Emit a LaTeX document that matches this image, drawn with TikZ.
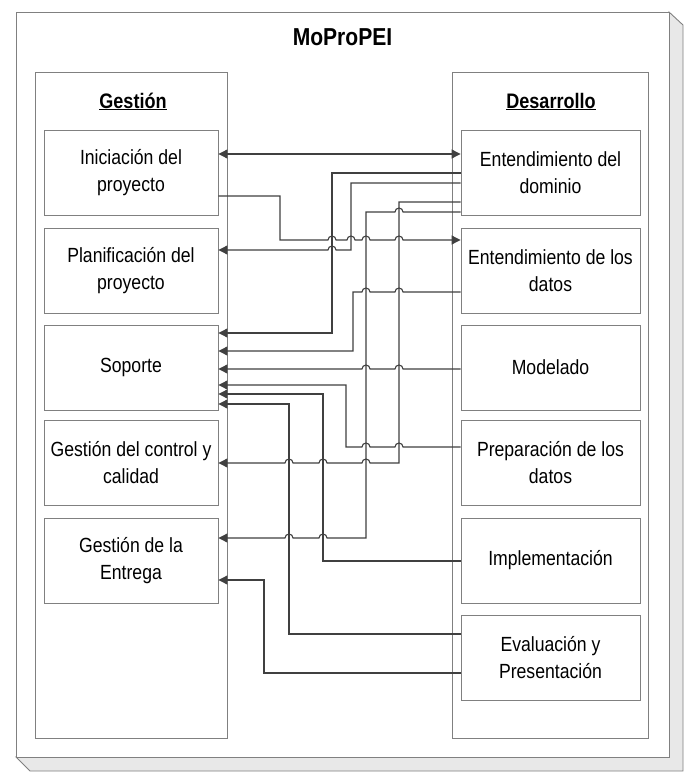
\documentclass[tikz,border=0pt]{standalone}
\usepackage{fontspec}
\setmainfont{Liberation Sans}[FakeStretch=0.86]
\usetikzlibrary{arrows.meta}
\definecolor{ln}{HTML}{404040}
\definecolor{bd}{HTML}{808080}
\definecolor{sh}{HTML}{E8E8E8}
\begin{document}
\begin{tikzpicture}[x=1pt,y=-1pt,
  cont/.style={draw=bd, line width=0.9pt, inner sep=0pt, minimum height=666pt},
  lbox/.style={draw=bd, line width=0.9pt, inner sep=0pt, minimum width=174pt, minimum height=85pt, align=center, font=\fontsize{20.5}{26.5}\selectfont},
  rbox/.style={lbox, minimum width=179pt},
  conn/.style={draw=ln, line width=1.1pt, -{Triangle[length=9pt,width=9pt]}},
  conn2/.style={draw=ln, line width=1.1pt, {Triangle[length=9pt,width=9pt]}-{Triangle[length=9pt,width=9pt]}},
  hdr/.style={anchor=base, font=\bfseries\fontsize{21}{25}\selectfont}]
\useasboundingbox (0,0) rectangle (686,776);
% outer 3D frame
\filldraw[fill=sh, draw=bd, line width=0.9pt] (669,12) -- (683,25) -- (683,771) -- (30,771) -- (16,757) -- (669,757) -- cycle;
\node[draw=bd, fill=white, line width=0.9pt, inner sep=0pt, minimum width=653pt, minimum height=745pt] (outer) at (342.5,384.5) {};
\node[anchor=base, font=\bfseries\fontsize{24.5}{28}\selectfont] (title) at (342.5,46) {MoProPEI};
% containers
\node[cont, minimum width=192pt] (gest) at (131,405) {};
\node[cont, minimum width=196pt] (desa) at (550,405) {};
\node[hdr] (hg) at (133,108) {\underline{Gestión}};
\node[hdr] (hd) at (551,108) {\underline{Desarrollo}};
% left boxes
\node[lbox] (ini)  at (131,172.5) {Iniciación del\\proyecto};
\node[lbox] (plan) at (131,270.5) {Planificación del\\proyecto};
\node[lbox] (sop)  at (131,367.5) {Soporte};
\node[lbox] (ctrl) at (131,462.5) {Gestión del control y\\calidad};
\node[lbox] (ent)  at (131,560.5) {Gestión de la\\Entrega};
% right boxes
\node[rbox] (dom)  at (550.5,172.5) {Entendimiento del\\dominio};
\node[rbox] (dat)  at (550.5,270.5) {Entendimiento de los\\datos};
\node[rbox] (mod)  at (550.5,367.5) {Modelado};
\node[rbox] (prep) at (550.5,462.5) {Preparación de los\\datos};
\node[rbox] (impl) at (550.5,560.5) {Implementación};
\node[rbox] (eval) at (550.5,657.5) {Evaluación y\\Presentación};
% connectors
\draw[conn2] ([yshift=18.5pt]ini.east) -- ([yshift=18.5pt]dom.west);
\draw[conn] ([yshift=-0.5pt]dom.west) -| (332,333) -- ([yshift=34.5pt]sop.east);
\draw[conn] ([yshift=-10.5pt]dom.west) -| (351,250) -- (336,250) arc[start angle=0,end angle=-180,radius=4] -- ([yshift=20.5pt]plan.east);
\draw[conn] ([yshift=-29.5pt]dom.west) -| (399,463) -- (370,463) arc[start angle=0,end angle=-180,radius=4]
   -- (327,463) arc[start angle=0,end angle=-180,radius=4]
   -- (293,463) arc[start angle=0,end angle=-180,radius=4] -- ([yshift=-0.5pt]ctrl.east);
\draw[conn] ([yshift=-39.5pt]dom.west) -- (403,212) arc[start angle=0,end angle=-180,radius=4]
   -- (366,212) -- (366,538) -- (327,538) arc[start angle=0,end angle=-180,radius=4]
   -- (293,538) arc[start angle=0,end angle=-180,radius=4] -- ([yshift=22.5pt]ent.east);
\draw[conn] ([yshift=-23.5pt]ini.east) -- (280,196) -- (280,240)
   -- (328,240) arc[start angle=180,end angle=360,radius=4]
   -- (347,240) arc[start angle=180,end angle=360,radius=4]
   -- (362,240) arc[start angle=180,end angle=360,radius=4]
   -- (395,240) arc[start angle=180,end angle=360,radius=4] -- ([yshift=30.5pt]dat.west);
\draw[conn] ([yshift=-21.5pt]dat.west) -- (403,292) arc[start angle=0,end angle=-180,radius=4]
   -- (370,292) arc[start angle=0,end angle=-180,radius=4]
   -- (353,292) -- (353,351) -- ([yshift=16.5pt]sop.east);
\draw[conn] ([yshift=-1.5pt]mod.west) -- (403,369) arc[start angle=0,end angle=-180,radius=4]
   -- (370,369) arc[start angle=0,end angle=-180,radius=4] -- ([yshift=-1.5pt]sop.east);
\draw[conn] ([yshift=15.5pt]prep.west) -- (403,447) arc[start angle=0,end angle=-180,radius=4]
   -- (370,447) arc[start angle=0,end angle=-180,radius=4]
   -- (346,447) -- (346,385) -- ([yshift=-17.5pt]sop.east);
\draw[conn] ([yshift=-0.5pt]impl.west) -| (323,394) -- ([yshift=-26.5pt]sop.east);
\draw[conn] ([yshift=23.5pt]eval.west) -| (289,404) -- ([yshift=-36.5pt]sop.east);
\draw[conn] ([yshift=-15.5pt]eval.west) -| (264,580) -- ([yshift=-19.5pt]ent.east);
\end{tikzpicture}
\end{document}
